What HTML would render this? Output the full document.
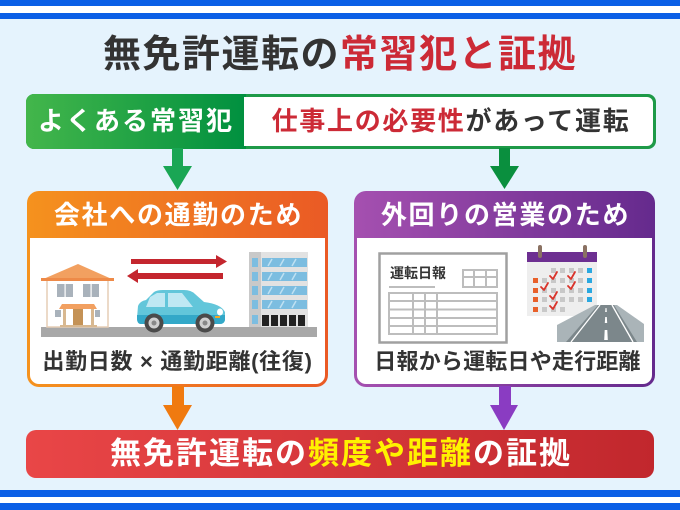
<!DOCTYPE html>
<html><head><meta charset="utf-8">
<style>
*{margin:0;padding:0;box-sizing:border-box}
html,body{width:680px;height:510px;overflow:hidden;background:#e5f3fd}
body{position:relative;font-family:"Liberation Sans","Noto Sans CJK JP",sans-serif;font-weight:bold}
.abs{position:absolute}
.t{position:absolute;text-align:center;white-space:nowrap}
</style></head><body>

<!-- stripes -->
<div class="abs" style="left:0;top:0;width:680px;height:6px;background:#0b5fe6"></div>
<div class="abs" style="left:0;top:6px;width:680px;height:7px;background:#fff"></div>
<div class="abs" style="left:0;top:13px;width:680px;height:6px;background:#0b5fe6"></div>
<div class="abs" style="left:0;top:490px;width:680px;height:7px;background:#0b5fe6"></div>
<div class="abs" style="left:0;top:497px;width:680px;height:6px;background:#fff"></div>
<div class="abs" style="left:0;top:503px;width:680px;height:7px;background:#0b5fe6"></div>

<!-- title -->
<div class="t" style="left:0;top:33px;width:680px;height:44px;line-height:44px;font-size:38px;letter-spacing:1.5px;color:#333"><span>無免許運転の</span><span style="color:#cc2a36">常習犯と証拠</span></div>

<!-- green bar -->
<div class="abs" style="left:26px;top:94px;width:630px;height:55px;border-radius:8px;background:#1e9a48"></div>
<div class="abs" style="left:26px;top:94px;width:220px;height:55px;border-radius:8px 0 0 8px;background:linear-gradient(90deg,#43b64b,#00903f)"></div>
<div class="abs" style="left:244px;top:97px;width:409px;height:49px;border-radius:0 6px 6px 0;background:#fff"></div>
<div class="t" style="left:26px;top:94px;width:218px;height:55px;line-height:55px;font-size:26px;letter-spacing:2px;color:#fff;padding-left:2px">よくある常習犯</div>
<div class="t" style="left:244px;top:94px;width:412px;height:55px;line-height:55px;font-size:26px;letter-spacing:1.7px;color:#333;padding-left:2px"><span style="color:#cc2a36">仕事上の必要性</span>があって運転</div>

<!-- orange box -->
<div class="abs" style="left:27px;top:191px;width:301px;height:196px;border-radius:12px;background:linear-gradient(90deg,#f5921e,#ea5a25)"></div>
<div class="abs" style="left:30px;top:238px;width:295px;height:146px;border-radius:0 0 9px 9px;background:#fff"></div>
<div class="t" style="left:27px;top:192px;width:301px;height:47px;line-height:47px;font-size:26px;letter-spacing:1.7px;color:#fff;padding-left:2px">会社への通勤のため</div>
<div class="t" style="left:27px;top:348px;width:301px;height:28px;line-height:28px;font-size:22px;letter-spacing:0.7px;color:#333">出勤日数 × 通勤距離(往復)</div>

<!-- purple box -->
<div class="abs" style="left:354px;top:191px;width:301px;height:196px;border-radius:12px;background:linear-gradient(90deg,#a550b0,#652a8d)"></div>
<div class="abs" style="left:357px;top:238px;width:295px;height:146px;border-radius:0 0 9px 9px;background:#fff"></div>
<div class="t" style="left:354px;top:192px;width:301px;height:47px;line-height:47px;font-size:26px;letter-spacing:1.7px;color:#fff;padding-left:2px">外回りの営業のため</div>
<div class="t" style="left:357px;top:348px;width:301px;height:28px;line-height:28px;font-size:22px;letter-spacing:0.2px;color:#333">日報から運転日や走行距離</div>

<!-- red bar -->
<div class="abs" style="left:26px;top:430px;width:628px;height:48px;border-radius:10px;background:linear-gradient(90deg,#e94647,#c1272d)"></div>
<div class="t" style="left:26px;top:430px;width:628px;height:48px;line-height:48px;font-size:31px;letter-spacing:2px;color:#fff;padding-left:2px">無免許運転の<span style="color:#fff200">頻度や距離</span>の証拠</div>

<svg class="abs" style="left:0;top:0" width="680" height="510" viewBox="0 0 680 510">
  <!-- green arrows -->
  <rect x="172" y="148" width="11" height="19" fill="#1aa654"/>
  <polygon points="163,166 192,166 177.5,190" fill="#1aa654"/>
  <rect x="499" y="148" width="11" height="19" fill="#0a8f3e"/>
  <polygon points="490,166 519,166 504.5,189" fill="#0a8f3e"/>
  <!-- bottom arrows -->
  <rect x="172" y="386" width="12" height="20" fill="#f07a10"/>
  <polygon points="163,405 192,405 177.5,430" fill="#f07a10"/>
  <rect x="499" y="386" width="12" height="20" fill="#8a3cc2"/>
  <polygon points="490,405 518,405 504,430" fill="#8a3cc2"/>

  <!-- ground -->
  <rect x="41" y="327" width="276" height="10" fill="#a8a8a8"/>
  <!-- house -->
  <rect x="47" y="280" width="61" height="47" fill="#fff" stroke="#e6cdb5" stroke-width="1.5"/>
  <polygon points="41,280 78,264 114,280" fill="#f2a060"/>
  <rect x="41" y="278" width="73" height="3" fill="#ee8a48"/>
  <rect x="57" y="284" width="16" height="13" fill="#a9b2bb"/>
  <rect x="64.5" y="284" width="1.2" height="13" fill="#fff"/>
  <rect x="83" y="284" width="16" height="13" fill="#a9b2bb"/>
  <rect x="90.5" y="284" width="1.2" height="13" fill="#fff"/>
  <polygon points="62,304 94,304 97,309 59,309" fill="#f2a060"/>
  <rect x="63" y="309" width="3" height="17" fill="#d8b890"/>
  <rect x="91" y="309" width="3" height="17" fill="#d8b890"/>
  <rect x="73" y="309" width="10" height="17" fill="#c49256"/>
  <rect x="55" y="310" width="6" height="7" fill="#a9b2bb"/>
  <rect x="95" y="310" width="5" height="7" fill="#a9b2bb"/>
  <rect x="60" y="325" width="37" height="2" fill="#d8b890"/>

  <!-- red arrows -->
  <rect x="131" y="259" width="86" height="5" fill="#c4262e"/>
  <polygon points="216,255 227,261.5 216,268" fill="#c4262e"/>
  <rect x="137" y="273" width="86" height="6" fill="#c4262e"/>
  <polygon points="138,269 127,276 138,283" fill="#c4262e"/>

  <!-- car -->
  <path d="M137,318 L138,306 Q140,301 146,300 L154,292 Q157,290 163,290 L184,290 Q191,290 195,294 L204,302 Q221,304 225,312 L225,320 Q224,324 220,324 L141,324 Q137,324 137,318 Z" fill="#62c6da"/>
  <path d="M137,315 L225,315 L225,320 Q224,324 220,324 L141,324 Q137,324 137,318 Z" fill="#33a8c8"/>
  <polygon points="146,307 150,297 157,293 165,293 165,307" fill="#bfe8f3"/>
  <polygon points="168,293 182,293 193,307 168,307" fill="#bfe8f3"/>
  <ellipse cx="220" cy="312" rx="3" ry="3.5" fill="#fff"/>
  <rect x="215" y="316" width="5" height="2" fill="#f5a623"/>
  <circle cx="154" cy="323" r="9.5" fill="#4a4a4a"/>
  <circle cx="154" cy="323" r="5.5" fill="#cfcfcf"/>
  <circle cx="154" cy="323" r="2.5" fill="#888"/>
  <circle cx="205" cy="323" r="9.5" fill="#4a4a4a"/>
  <circle cx="205" cy="323" r="5.5" fill="#cfcfcf"/>
  <circle cx="205" cy="323" r="2.5" fill="#888"/>

  <!-- building -->
  <rect x="249" y="252" width="59" height="75" fill="#e2e2e2"/>
  <rect x="249" y="252" width="12" height="75" fill="#c9c9c9"/>
  <g fill="#7cbde0">
    <rect x="262" y="258" width="45" height="9"/><rect x="262" y="272" width="45" height="9"/>
    <rect x="262" y="286" width="45" height="9"/><rect x="262" y="300" width="45" height="9"/>
    <rect x="252" y="258" width="6" height="9"/><rect x="252" y="272" width="6" height="9"/>
    <rect x="252" y="286" width="6" height="9"/><rect x="252" y="300" width="6" height="9"/>
    <rect x="252" y="315" width="6" height="9"/>
  </g>
  <g stroke="#bfe1f2" stroke-width="1.5">
    <line x1="268" y1="266" x2="272" y2="259"/><line x1="280" y1="266" x2="284" y2="259"/><line x1="292" y1="266" x2="296" y2="259"/>
    <line x1="268" y1="280" x2="272" y2="273"/><line x1="280" y1="280" x2="284" y2="273"/><line x1="292" y1="280" x2="296" y2="273"/>
    <line x1="268" y1="294" x2="272" y2="287"/><line x1="280" y1="294" x2="284" y2="287"/><line x1="292" y1="294" x2="296" y2="287"/>
    <line x1="268" y1="308" x2="272" y2="301"/><line x1="280" y1="308" x2="284" y2="301"/><line x1="292" y1="308" x2="296" y2="301"/>
  </g>
  <g fill="#222">
    <rect x="262" y="315" width="7" height="11"/><rect x="271" y="315" width="7" height="11"/>
    <rect x="280" y="315" width="7" height="11"/><rect x="289" y="315" width="7" height="11"/>
    <rect x="298" y="315" width="7" height="11"/>
  </g>

  <!-- document -->
  <rect x="379.5" y="253.5" width="127" height="89" fill="#fff" stroke="#a0a0a0" stroke-width="2.5"/>
  <text x="390" y="278" font-family="Liberation Sans, Noto Sans CJK JP, sans-serif" font-weight="bold" font-size="14" fill="#333">運転日報</text>
  <g stroke="#bdbdbd" stroke-width="2" fill="none">
    <rect x="463" y="270" width="34" height="17"/>
    <line x1="474" y1="270" x2="474" y2="287"/><line x1="486" y1="270" x2="486" y2="287"/>
    <line x1="463" y1="277" x2="497" y2="277"/>
    <line x1="389" y1="287" x2="435" y2="287"/>
    <rect x="389" y="293" width="108" height="41"/>
    <line x1="389" y1="301" x2="497" y2="301"/><line x1="389" y1="309.5" x2="497" y2="309.5"/>
    <line x1="389" y1="318" x2="497" y2="318"/><line x1="389" y1="326" x2="497" y2="326"/>
    <line x1="413" y1="293" x2="413" y2="334"/><line x1="425" y1="293" x2="425" y2="334"/>
    <line x1="437" y1="293" x2="437" y2="334"/>
  </g>

  <!-- calendar -->
  <rect x="527" y="252" width="70" height="64" fill="#eeeeee"/>
  <rect x="527" y="252" width="70" height="10" fill="#6d2f91"/>
  <rect x="538" y="245" width="4" height="13" rx="2" fill="#8a7162"/>
  <rect x="583" y="245" width="4" height="13" rx="2" fill="#8a7162"/>
  <g fill="#c8c8c8">
    <rect x="551" y="268" width="5" height="5"/><rect x="560" y="268" width="5" height="5"/><rect x="569" y="268" width="5" height="5"/><rect x="578" y="268" width="5" height="5"/>
    <rect x="542" y="278" width="5" height="5"/><rect x="551" y="278" width="5" height="5"/><rect x="560" y="278" width="5" height="5"/><rect x="569" y="278" width="5" height="5"/><rect x="578" y="278" width="5" height="5"/>
    <rect x="542" y="288" width="5" height="5"/><rect x="551" y="288" width="5" height="5"/><rect x="560" y="288" width="5" height="5"/><rect x="569" y="288" width="5" height="5"/><rect x="578" y="288" width="5" height="5"/>
    <rect x="542" y="297" width="5" height="5"/><rect x="551" y="297" width="5" height="5"/><rect x="560" y="297" width="5" height="5"/><rect x="569" y="297" width="5" height="5"/><rect x="578" y="297" width="5" height="5"/>
    <rect x="542" y="307" width="5" height="5"/><rect x="551" y="307" width="5" height="5"/><rect x="560" y="307" width="5" height="5"/>
  </g>
  <g fill="#e8602a">
    <rect x="533" y="278" width="5" height="5"/><rect x="533" y="288" width="5" height="5"/>
    <rect x="533" y="297" width="5" height="5"/><rect x="533" y="307" width="5" height="5"/>
  </g>
  <g fill="#2aa8e0">
    <rect x="587" y="268" width="5" height="5"/><rect x="587" y="278" width="5" height="5"/>
    <rect x="587" y="288" width="5" height="5"/><rect x="587" y="297" width="5" height="5"/>
  </g>
  <g stroke="#d9342b" stroke-width="1.8" fill="none" stroke-linecap="round" stroke-linejoin="round">
    <polyline points="550,276 553,279 557,272"/>
    <polyline points="568,276 571,279 575,272"/>
    <polyline points="541,287 544,290 548,283"/>
    <polyline points="568,286 571,289 575,282"/>
    <polyline points="550,296 553,299 557,292"/>
    <polyline points="550,306 553,309 557,302"/>
  </g>

  <!-- road -->
  <polygon points="557,342 557,325 595,305 617,305 644,324 644,342" fill="#aab4b8"/>
  <polygon points="566,342 598,305 614,305 637,342" fill="#7c878b"/>
  <g stroke="#fff" stroke-width="1.3">
    <line x1="571" y1="342" x2="600" y2="305"/>
    <line x1="633" y1="342" x2="612" y2="305"/>
  </g>
  <g fill="#fff">
    <polygon points="605.5,308 606.5,308 606.8,312 605.2,312"/>
    <polygon points="605.2,317 606.8,317 607.2,323 604.8,323"/>
    <polygon points="604.7,330 607.3,330 607.8,340 604.2,340"/>
  </g>
</svg>
</body></html>
